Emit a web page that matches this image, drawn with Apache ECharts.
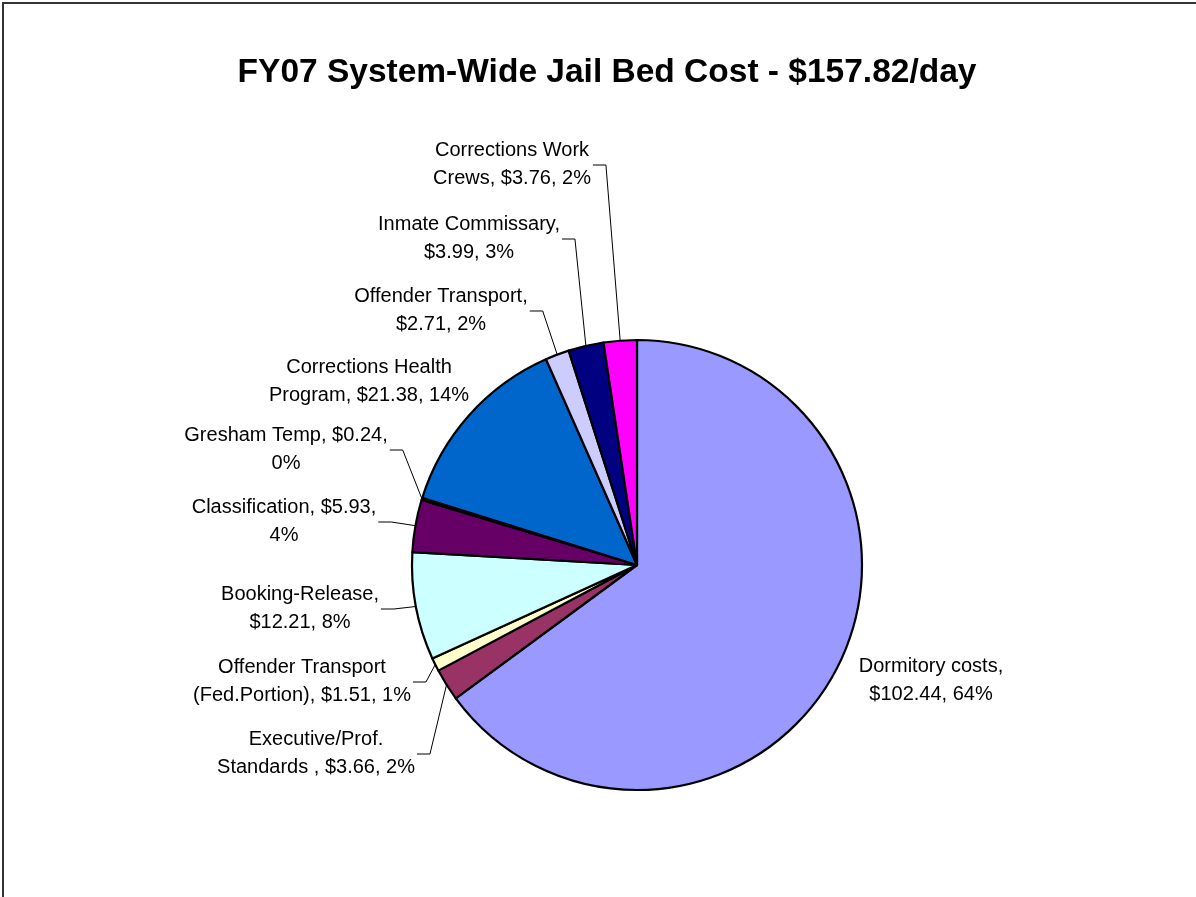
<!DOCTYPE html>
<html>
<head>
<meta charset="utf-8">
<script src="https://cdn.jsdelivr.net/npm/echarts@6/dist/echarts.min.js"></script>
<style>
  html, body { margin: 0; padding: 0; background: #fff; }
  #chart { width: 1196px; height: 897px; }
</style>
</head>
<body>
<div id="chart"></div>
<script>
// ---- Data ----
const chartTitle = 'FY07 System-Wide Jail Bed Cost - $157.82/day';
const categories = [
  'Dormitory costs',
  'Executive/Prof.\nStandards ',
  'Offender Transport\n(Fed.Portion)',
  'Booking-Release',
  'Classification',
  'Gresham Temp',
  'Corrections Health\nProgram',
  'Offender Transport',
  'Inmate Commissary',
  'Corrections Work\nCrews'
];
const costs = [102.44, 3.66, 1.51, 12.21, 5.93, 0.24, 21.38, 2.71, 3.99, 3.76];
const percents = [64, 2, 1, 8, 4, 0, 14, 2, 3, 2];
// where the label wraps: 'n' = after the name, 'v' = after the value, '' = inside name
const wraps = ['n', '', '', 'n', 'v', 'v', '', 'n', 'n', ''];

// ---- Styling / layout (not data) ----
const colors = ['#9999FF', '#993366', '#FFFFCC', '#CCFFFF', '#660066',
                '#FF8080', '#0066CC', '#CCCCFF', '#000080', '#FF00FF'];
const PIE_CENTER = [637, 565];
const PIE_RADIUS = 225;
const labelPos = [
  [931, 680], [316, 753], [302, 681], [300, 608], [284, 521],
  [286, 449], [369, 381], [441, 310], [469, 238], [512, 164]
];
const noLeader = [true, false, false, false, false, false, true, false, false, false];

function labelText(i) {
  const s1 = wraps[i] === 'n' ? ',\n' : ', ';
  const s2 = wraps[i] === 'v' ? ',\n' : ', ';
  return categories[i] + s1 + '$' + costs[i].toFixed(2) + s2 + percents[i] + '%';
}

// mid angle of each slice (clockwise from 12 o'clock), derived from the data
const total = costs.reduce((a, b) => a + b, 0);
const midAngles = [];
{
  let acc = 0;
  costs.forEach(v => { midAngles.push((acc + v / 2) / total * 2 * Math.PI); acc += v; });
}

const data = categories.map((c, i) => ({
  name: c,
  value: costs[i],
  itemStyle: { color: colors[i] },
  labelLine: { show: !noLeader[i] }
}));

const chart = echarts.init(document.getElementById('chart'));
chart.setOption({
  animation: false,
  backgroundColor: '#ffffff',
  title: {
    text: chartTitle,
    left: 602,
    top: 51,
    textAlign: 'center',
    textStyle: {
      fontFamily: '"Liberation Sans", Arial, sans-serif',
      fontWeight: 'bold',
      fontSize: 33.5,
      color: '#000'
    }
  },
  graphic: [{
    type: 'rect',
    shape: { x: 3, y: 3, width: 1400, height: 1100 },
    style: { fill: 'none', stroke: '#333', lineWidth: 2 },
    silent: true
  }],
  series: [{
    type: 'pie',
    center: PIE_CENTER,
    radius: PIE_RADIUS,
    startAngle: 90,
    clockwise: true,
    avoidLabelOverlap: false,
    minShowLabelAngle: 0,
    itemStyle: { borderColor: '#000', borderWidth: 2.2 },
    emphasis: { disabled: true },
    label: {
      show: true,
      position: 'outside',
      formatter: p => labelText(p.dataIndex),
      fontFamily: '"Liberation Sans", Arial, sans-serif',
      fontSize: 20,
      lineHeight: 28,
      color: '#000',
      align: 'center'
    },
    labelLine: {
      show: true,
      length: 15,
      length2: 14,
      lineStyle: { color: '#000', width: 1 }
    },
    labelLayout: params => {
      const i = params.dataIndex;
      const x = labelPos[i][0], y = labelPos[i][1];
      const right = x + params.labelRect.width / 2;
      const a = midAngles[i];
      const res = { x: x, y: y, align: 'center', verticalAlign: 'middle' };
      if (!noLeader[i]) {
        res.labelLinePoints = [
          [right + 2, y + 1],
          [right + 15, y + 1],
          [PIE_CENTER[0] + PIE_RADIUS * Math.sin(a), PIE_CENTER[1] - PIE_RADIUS * Math.cos(a)]
        ];
      }
      return res;
    },
    data: data
  }]
});
</script>
</body>
</html>
